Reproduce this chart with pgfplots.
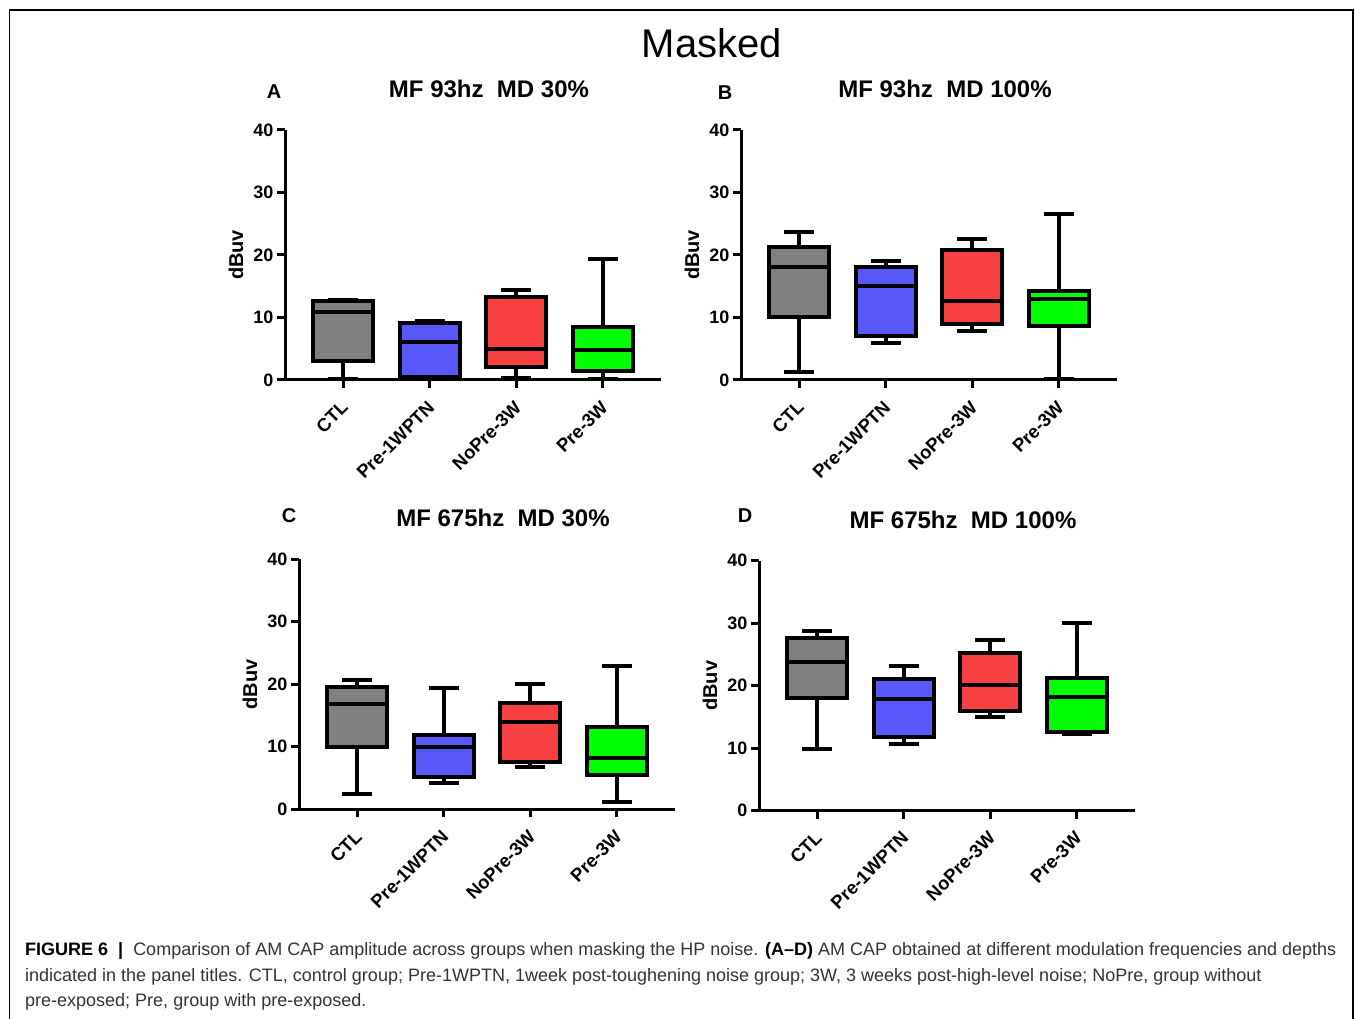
\documentclass[border=0pt]{standalone}
\usepackage{fontspec}
\setmainfont{Liberation Sans}
\usepackage{pgfplots}
\pgfplotsset{compat=1.18}
\usepgfplotslibrary{statistics}
\definecolor{cgray}{RGB}{128,128,128}
\definecolor{cblue}{RGB}{88,88,250}
\definecolor{cred}{RGB}{248,64,64}
\definecolor{cgreen}{RGB}{0,255,0}
\pgfplotsset{
  panel/.style={
    scale only axis, width=376pt, height=250pt,
    anchor=south west,
    xmin=-0.67, xmax=3.67, ymin=0, ymax=40,
    axis x line=bottom, axis y line=left,
    axis line style={-, line width=3pt, black},
    xtick={0,1,2,3},
    xticklabels={CTL,Pre-1WPTN,NoPre-3W,Pre-3W},
    ytick={0,10,20,30,40},
    tick align=outside,
    major tick length=8pt,
    tick style={black, line width=3pt},
    /pgf/number format/assume math mode=true,
    xticklabel style={anchor=north east, font=\bfseries\fontsize{18.5}{18.5}\selectfont, inner sep=1pt, xshift=-3pt, yshift=-10pt, rotate=45},
    yticklabel style={font=\bfseries\fontsize{18}{18}\selectfont},
    ylabel={dBuv},
    ylabel style={at={(axis description cs:0,0.5)}, anchor=center, yshift=49pt, font=\bfseries\fontsize{20}{20}\selectfont},
    clip=false,
    boxplot/draw direction=y,
  },
  bx/.style n args={6}{boxplot prepared={lower whisker=#1, lower quartile=#2, median=#3, upper quartile=#4, upper whisker=#5, draw position=#6, box extend=0.69, whisker extend=0.35}, draw=black, line width=4pt, solid, mark=none},
}
\begin{document}
\begin{tikzpicture}
\useasboundingbox (0pt,0pt) rectangle (1355pt,1019pt);
\draw[line width=1.3pt, black] (9.5pt,0pt) -- (9.5pt,1009pt) -- (1353pt,1009pt) -- (1353pt,0pt);
\node[font=\fontsize{40}{40}\selectfont] at (712pt,976pt) {Masked};

% Panel A
\node[font=\bfseries\fontsize{20}{20}\selectfont] at (274pt,927pt) {A};
\node[font=\bfseries\fontsize{24}{24}\selectfont] at (489pt,930pt) {MF 93hz \ MD 30\%};
\begin{axis}[panel, at={(285pt,639pt)}]
\addplot[bx={0.16}{3.1}{10.8}{12.6}{12.85}{0}, fill=cgray] coordinates {};
\addplot[bx={0.15}{0.4}{6.0}{9.1}{9.4}{1}, fill=cblue] coordinates {};
\addplot[bx={0.27}{2.0}{4.96}{13.2}{14.45}{2}, fill=cred] coordinates {};
\addplot[bx={0.15}{1.4}{4.85}{8.4}{19.3}{3}, fill=cgreen] coordinates {};
\end{axis}

% Panel B
\node[font=\bfseries\fontsize{20}{20}\selectfont] at (725pt,926pt) {B};
\node[font=\bfseries\fontsize{24}{24}\selectfont] at (945pt,930pt) {MF 93hz \ MD 100\%};
\begin{axis}[panel, at={(741pt,639pt)}]
\addplot[bx={1.2}{10.0}{18.1}{21.2}{23.7}{0}, fill=cgray] coordinates {};
\addplot[bx={5.9}{7.1}{15.1}{18.1}{19.1}{1}, fill=cblue] coordinates {};
\addplot[bx={7.8}{9.0}{12.6}{20.8}{22.6}{2}, fill=cred] coordinates {};
\addplot[bx={0.1}{8.7}{13.0}{14.3}{26.5}{3}, fill=cgreen] coordinates {};
\end{axis}

% Panel C
\node[font=\bfseries\fontsize{20}{20}\selectfont] at (289pt,503pt) {C};
\node[font=\bfseries\fontsize{24}{24}\selectfont] at (503pt,501pt) {MF 675hz \ MD 30\%};
\begin{axis}[panel, at={(299pt,209.7pt)}]
\addplot[bx={2.4}{10.0}{16.8}{19.5}{20.7}{0}, fill=cgray] coordinates {};
\addplot[bx={4.2}{5.1}{9.9}{11.9}{19.4}{1}, fill=cblue] coordinates {};
\addplot[bx={6.7}{7.5}{14.0}{17.0}{20.0}{2}, fill=cred] coordinates {};
\addplot[bx={1.2}{5.5}{8.2}{13.1}{22.9}{3}, fill=cgreen] coordinates {};
\end{axis}

% Panel D
\node[font=\bfseries\fontsize{20}{20}\selectfont] at (745pt,503pt) {D};
\node[font=\bfseries\fontsize{24}{24}\selectfont] at (963pt,499pt) {MF 675hz \ MD 100\%};
\begin{axis}[panel, at={(759pt,208.3pt)}]
\addplot[bx={9.8}{18.1}{23.8}{27.7}{28.8}{0}, fill=cgray] coordinates {};
\addplot[bx={10.7}{11.8}{17.8}{21.0}{23.1}{1}, fill=cblue] coordinates {};
\addplot[bx={15.0}{16.0}{20.1}{25.2}{27.3}{2}, fill=cred] coordinates {};
\addplot[bx={12.2}{12.6}{18.2}{21.2}{30.1}{3}, fill=cgreen] coordinates {};
\end{axis}

% Caption
\begin{scope}[every node/.style={anchor=base west, inner sep=0pt, font=\fontsize{18}{18}\selectfont, text=black!80}]
\node at (25pt,63pt) {{\bfseries\color{black}FIGURE 6 \ |}\ \ Comparison of AM CAP amplitude across groups when masking the HP noise. {\bfseries\color{black}(A--D)} AM CAP obtained at different modulation frequencies and depths};
\node at (25pt,37.5pt) {indicated in the panel titles. CTL, control group; Pre-1WPTN, 1week post-toughening noise group; 3W, 3 weeks post-high-level noise; NoPre, group without};
\node at (25pt,12pt) {pre-exposed; Pre, group with pre-exposed.};
\end{scope}
\end{tikzpicture}
\end{document}
